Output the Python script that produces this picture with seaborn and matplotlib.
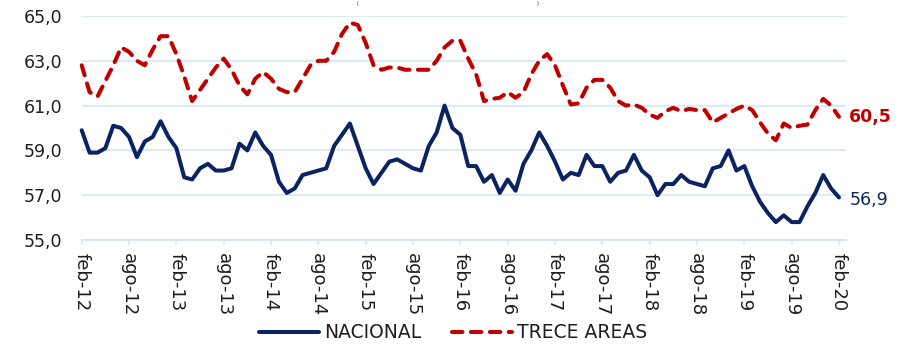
import numpy as np
import pandas as pd
import matplotlib
matplotlib.use("Agg")
import matplotlib.pyplot as plt
import seaborn as sns

# Monthly series, feb-2012 .. feb-2020
nacional = [59.9, 58.9, 58.9, 59.1, 60.1, 60.0, 59.6, 58.7, 59.4, 59.6,
            60.3, 59.6, 59.1, 57.8, 57.7, 58.2, 58.4, 58.1, 58.1, 58.2,
            59.3, 59.0, 59.8, 59.2, 58.8, 57.6, 57.1, 57.3, 57.9, 58.0,
            58.1, 58.2, 59.2, 59.7, 60.2, 59.2, 58.2, 57.5, 58.0, 58.5,
            58.6, 58.4, 58.2, 58.1, 59.2, 59.8, 61.0, 60.0, 59.7, 58.3,
            58.3, 57.6, 57.9, 57.1, 57.7, 57.2, 58.4, 59.0, 59.8, 59.2,
            58.5, 57.7, 58.0, 57.9, 58.8, 58.3, 58.3, 57.6, 58.0, 58.1,
            58.8, 58.1, 57.8, 57.0, 57.5, 57.5, 57.9, 57.6, 57.5, 57.4,
            58.2, 58.3, 59.0, 58.1, 58.3, 57.4, 56.7, 56.2, 55.8, 56.1,
            55.8, 55.8, 56.5, 57.1, 57.9, 57.3, 56.9]

trece_areas = [62.8, 61.6, 61.4, 62.1, 62.8, 63.6, 63.4, 63.0, 62.8, 63.5,
               64.1, 64.1, 63.3, 62.3, 61.2, 61.7, 62.2, 62.7, 63.1, 62.6,
               61.9, 61.5, 62.2, 62.5, 62.2, 61.75, 61.6, 61.6, 62.2, 62.8,
               63.0, 63.0, 63.4, 64.2, 64.7, 64.6, 63.8, 62.8, 62.6, 62.7,
               62.7, 62.6, 62.6, 62.6, 62.6, 63.0, 63.6, 63.9, 63.9, 63.1,
               62.4, 61.2, 61.3, 61.35, 61.6, 61.35, 61.6, 62.4, 63.0, 63.3,
               62.8, 61.9, 61.05, 61.1, 61.8, 62.15, 62.15, 61.8, 61.2, 61.0,
               61.05, 60.9, 60.6, 60.45, 60.75, 60.9, 60.75, 60.85, 60.8, 60.8,
               60.25, 60.45, 60.65, 60.85, 61.0, 60.8, 60.25, 59.75, 59.45, 60.2,
               60.0, 60.1, 60.15, 60.8, 61.3, 61.0, 60.5]

tick_labels = ["feb-12", "ago-12", "feb-13", "ago-13", "feb-14", "ago-14",
               "feb-15", "ago-15", "feb-16", "ago-16", "feb-17", "ago-17",
               "feb-18", "ago-18", "feb-19", "ago-19", "feb-20"]
y_ticks = [55.0, 57.0, 59.0, 61.0, 63.0, 65.0]

series_names = ["NACIONAL", "TRECE AREAS"]
last_labels = ["56,9", "60,5"]

NAVY = "#0b2461"
RED = "#c00000"
GRID = "#cfe5f8"
TEXT = "#1e1e1e"

sns.set_theme(style="white")
plt.rcParams["font.family"] = ["DejaVu Sans"]

months = np.arange(len(nacional))
df = pd.DataFrame({"mes": months, "NACIONAL": nacional, "TRECE AREAS": trece_areas})

W, H = 912, 346
fig = plt.figure(figsize=(W / 100, H / 100), dpi=100)
ax = fig.add_axes([81.7 / W, 1 - 240 / H, (846 - 81.7) / W, 224 / H])

lw = 2.9
sns.lineplot(data=df, x="mes", y="NACIONAL", ax=ax, color=NAVY, linewidth=lw,
             label=series_names[0], solid_capstyle="round", solid_joinstyle="round",
             clip_on=False, zorder=4)
sns.lineplot(data=df, x="mes", y="TRECE AREAS", ax=ax, color=RED, linewidth=lw,
             label=series_names[1], dashes=(2.6, 2.1), dash_capstyle="round",
             dash_joinstyle="round", clip_on=False, zorder=4)

ax.set_xlim(0, 96.89)
ax.set_ylim(55, 65)

# horizontal gridlines
ax.set_yticks(y_ticks)
ax.set_yticklabels([f"{v:.1f}".replace(".", ",") for v in y_ticks])
ax.grid(axis="y", color=GRID, linewidth=1.1, zorder=0)
ax.grid(axis="x", visible=False)

ax.set_xticks(np.arange(0, len(months), 6))
ax.set_xticklabels(tick_labels, rotation=-90, ha="center", va="top")

for side in ["left", "right", "top"]:
    ax.spines[side].set_visible(False)
ax.spines["bottom"].set_color(GRID)
ax.spines["bottom"].set_linewidth(1.3)

ax.tick_params(axis="y", length=0, pad=14, labelsize=12.5, labelcolor=TEXT)
ax.tick_params(axis="x", bottom=True, length=3.6, width=1.1, color=GRID,
               pad=6, labelsize=13, labelcolor=TEXT)
ax.set_xlabel("")
ax.set_ylabel("")

# end-of-series value labels
ax.annotate(last_labels[1], xy=(months[-1], trece_areas[-1]), xytext=(7, 0),
            textcoords="offset points", va="center", ha="left",
            color=RED, fontsize=12.5, fontweight="bold", annotation_clip=False)
ax.annotate(last_labels[0], xy=(months[-1], nacional[-1]), xytext=(8, -1.5),
            textcoords="offset points", va="center", ha="left",
            color=NAVY, fontsize=12.5, annotation_clip=False)

ax.legend_.remove()
handles, labels = ax.get_legend_handles_labels()
fig.legend(handles, labels, loc="center", ncol=2, frameon=False,
           bbox_to_anchor=(453 / W, 1 - 333 / H), bbox_transform=fig.transFigure,
           fontsize=13.5, handlelength=3.2, handletextpad=0.3, columnspacing=1.6,
           labelcolor=TEXT)

# small parentheses of the heading at the top edge
fig.text(358 / W, 1 - 0.5 / H, "(", ha="center", va="top", fontsize=3.5, color=TEXT)
fig.text(538 / W, 1 - 0.5 / H, ")", ha="center", va="top", fontsize=3.5, color=TEXT)

fig.savefig("out.png", dpi=100)
